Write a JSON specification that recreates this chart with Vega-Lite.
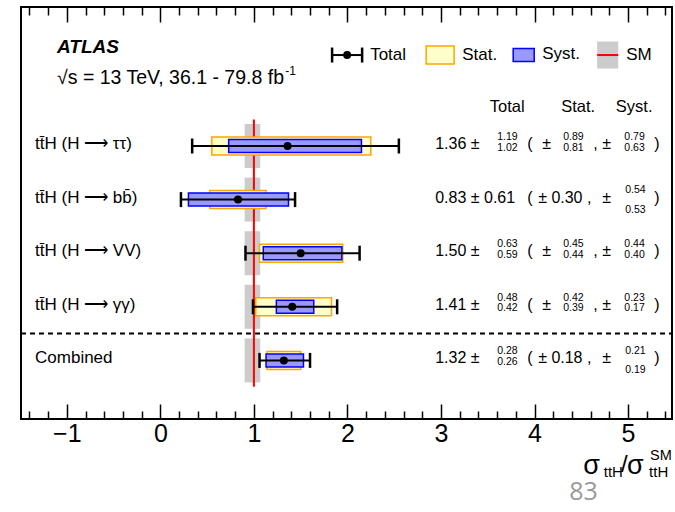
{
  "$schema": "https://vega.github.io/schema/vega-lite/v6.json",
  "width": 651,
  "height": 412,
  "autosize": "none",
  "padding": {"left": 21, "top": 7, "right": 3, "bottom": 93},
  "config": {"view": {"stroke": "#000", "strokeWidth": 2}, "font": "Liberation Sans", "text": {"font": "Liberation Sans", "color": "#000", "baseline": "middle", "align": "left"}},
  "datasets": {
    "rows": [
      {"label": "tt\u0304H (H \u27f6 \u03c4\u03c4)", "y": 5, "mu": 1.36, "totLo": 0.34, "totHi": 2.55, "statLo": 0.55, "statHi": 2.25, "systLo": 0.73, "systHi": 2.15, "main": "1.36 \u00b1", "totUp": "1.19", "totDn": "1.02", "statSym": "", "statPm": "\u00b1", "statUp": "0.89", "statDn": "0.81", "comma": ",", "systUp": "0.79", "systDn": "0.63", "systUpW": "", "systDnW": ""},
      {"label": "tt\u0304H (H \u27f6 bb\u0304)", "y": 4, "mu": 0.83, "totLo": 0.22, "totHi": 1.44, "statLo": 0.53, "statHi": 1.13, "systLo": 0.30, "systHi": 1.37, "main": "0.83 \u00b1 0.61", "totUp": "", "totDn": "", "statSym": "\u00b1 0.30 ,", "statPm": "", "statUp": "", "statDn": "", "comma": "", "systUp": "", "systDn": "", "systUpW": "0.54", "systDnW": "0.53"},
      {"label": "tt\u0304H (H \u27f6 VV)", "y": 3, "mu": 1.50, "totLo": 0.91, "totHi": 2.13, "statLo": 1.06, "statHi": 1.95, "systLo": 1.10, "systHi": 1.94, "main": "1.50 \u00b1", "totUp": "0.63", "totDn": "0.59", "statSym": "", "statPm": "\u00b1", "statUp": "0.45", "statDn": "0.44", "comma": ",", "systUp": "0.44", "systDn": "0.40", "systUpW": "", "systDnW": ""},
      {"label": "tt\u0304H (H \u27f6 \u03b3\u03b3)", "y": 2, "mu": 1.41, "totLo": 0.99, "totHi": 1.89, "statLo": 1.02, "statHi": 1.83, "systLo": 1.24, "systHi": 1.64, "main": "1.41 \u00b1", "totUp": "0.48", "totDn": "0.42", "statSym": "", "statPm": "\u00b1", "statUp": "0.42", "statDn": "0.39", "comma": ",", "systUp": "0.23", "systDn": "0.17", "systUpW": "", "systDnW": ""},
      {"label": "Combined", "y": 1, "mu": 1.32, "totLo": 1.06, "totHi": 1.60, "statLo": 1.14, "statHi": 1.50, "systLo": 1.13, "systHi": 1.53, "main": "1.32 \u00b1", "totUp": "0.28", "totDn": "0.26", "statSym": "\u00b1 0.18 ,", "statPm": "", "statUp": "", "statDn": "", "comma": "", "systUp": "", "systDn": "", "systUpW": "0.21", "systDnW": "0.19"}
    ],
    "one": [{"k": 1}]
  },
  "layer": [
    {"data": {"name": "rows"}, "mark": {"type": "bar", "color": "#cccccc", "size": 44, "orient": "horizontal"},
     "encoding": {
       "x": {"datum": 0.901, "type": "quantitative", "scale": {"domain": [-1.49, 5.47], "nice": false, "zero": false},
             "axis": {"orient": "bottom", "values": [-1.4,-1.2,-1,-0.8,-0.6,-0.4,-0.2,0,0.2,0.4,0.6,0.8,1,1.2,1.4,1.6,1.8,2,2.2,2.4,2.6,2.8,3,3.2,3.4,3.6,3.8,4,4.2,4.4,4.6,4.8,5,5.2,5.4],
                      "labelExpr": "abs(datum.value - round(datum.value)) < 0.001 ? format(round(datum.value), 'd') : ''",
                      "labelOverlap": false, "labelBound": false, "labelFlush": false, "labelFont": "Liberation Sans", "labelFontSize": 25, "labelColor": "#000", "labelPadding": 17,
                      "tickColor": "#000", "tickWidth": 1.5, "tickSize": {"condition": {"test": "abs(datum.value - round(datum.value)) < 0.001", "value": -15}, "value": -8},
                      "domain": false, "grid": false, "title": null}},
       "x2": {"datum": 1.068},
       "y": {"field": "y", "type": "quantitative", "scale": {"domain": [0, 7.5], "nice": false, "zero": false}, "axis": null}}},
    {"data": {"name": "one"}, "mark": {"type": "rule", "color": "#ff0000", "strokeWidth": 2},
     "encoding": {
       "x": {"datum": 1, "type": "quantitative", "scale": {"domain": [-1.49, 5.47], "nice": false, "zero": false},
             "axis": {"orient": "top", "values": [-1.4,-1.2,-1,-0.8,-0.6,-0.4,-0.2,0,0.2,0.4,0.6,0.8,1,1.2,1.4,1.6,1.8,2,2.2,2.4,2.6,2.8,3,3.2,3.4,3.6,3.8,4,4.2,4.4,4.6,4.8,5,5.2,5.4],
                      "labels": false, "tickColor": "#000", "tickWidth": 1.5, "tickSize": {"condition": {"test": "abs(datum.value - round(datum.value)) < 0.001", "value": -15}, "value": -8},
                      "domain": false, "grid": false, "title": null}},
       "y": {"datum": 0.51, "type": "quantitative", "axis": null}, "y2": {"datum": 5.496}}},
    {"data": {"name": "one"}, "mark": {"type": "rule", "color": "#000", "strokeWidth": 2, "strokeDash": [5, 4]},
     "encoding": {"x": {"datum": -1.49, "type": "quantitative", "axis": null}, "x2": {"datum": 5.47}, "y": {"datum": 1.5, "type": "quantitative", "axis": null}}},
    {"data": {"name": "rows"}, "mark": {"type": "bar", "fill": "#ffffcc", "stroke": "#ffa500", "strokeWidth": 1.5, "size": 18, "orient": "horizontal"},
     "encoding": {"x": {"field": "statLo", "type": "quantitative", "axis": null}, "x2": {"field": "statHi"}, "y": {"field": "y", "type": "quantitative", "axis": null}}},
    {"data": {"name": "rows"}, "mark": {"type": "bar", "fill": "#9999ff", "stroke": "#0000ff", "strokeWidth": 1.5, "size": 13, "orient": "horizontal"},
     "encoding": {"x": {"field": "systLo", "type": "quantitative", "axis": null}, "x2": {"field": "systHi"}, "y": {"field": "y", "type": "quantitative", "axis": null}}},
    {"data": {"name": "rows"}, "mark": {"type": "rule", "color": "#000", "strokeWidth": 2},
     "encoding": {"x": {"field": "totLo", "type": "quantitative", "axis": null}, "x2": {"field": "totHi"}, "y": {"field": "y", "type": "quantitative", "axis": null}}},
    {"data": {"name": "rows"}, "mark": {"type": "tick", "color": "#000", "orient": "vertical", "size": 15, "thickness": 2.5, "opacity": 1},
     "encoding": {"x": {"field": "totLo", "type": "quantitative", "axis": null}, "y": {"field": "y", "type": "quantitative", "axis": null}}},
    {"data": {"name": "rows"}, "mark": {"type": "tick", "color": "#000", "orient": "vertical", "size": 15, "thickness": 2.5, "opacity": 1},
     "encoding": {"x": {"field": "totHi", "type": "quantitative", "axis": null}, "y": {"field": "y", "type": "quantitative", "axis": null}}},
    {"data": {"name": "rows"}, "mark": {"type": "circle", "color": "#000", "size": 64, "opacity": 1},
     "encoding": {"x": {"field": "mu", "type": "quantitative", "axis": null}, "y": {"field": "y", "type": "quantitative", "axis": null}}},

    {"data": {"name": "rows"}, "mark": {"type": "text", "fontSize": 17, "dy": -2},
     "encoding": {"x": {"datum": -1.34, "type": "quantitative", "axis": null}, "y": {"field": "y", "type": "quantitative", "axis": null}, "text": {"field": "label"}}},
    {"data": {"name": "rows"}, "mark": {"type": "text", "fontSize": 16, "dy": -2},
     "encoding": {"x": {"datum": 2.938, "type": "quantitative", "axis": null}, "y": {"field": "y", "type": "quantitative", "axis": null}, "text": {"field": "main"}}},
    {"data": {"name": "rows"}, "mark": {"type": "text", "fontSize": 10.5, "dy": -9},
     "encoding": {"x": {"datum": 3.601, "type": "quantitative", "axis": null}, "y": {"field": "y", "type": "quantitative", "axis": null}, "text": {"field": "totUp"}}},
    {"data": {"name": "rows"}, "mark": {"type": "text", "fontSize": 10.5, "dy": 1.5},
     "encoding": {"x": {"datum": 3.601, "type": "quantitative", "axis": null}, "y": {"field": "y", "type": "quantitative", "axis": null}, "text": {"field": "totDn"}}},
    {"data": {"name": "rows"}, "mark": {"type": "text", "fontSize": 16, "dy": -2, "text": "("},
     "encoding": {"x": {"datum": 3.922, "type": "quantitative", "axis": null}, "y": {"field": "y", "type": "quantitative", "axis": null}}},
    {"data": {"name": "rows"}, "mark": {"type": "text", "fontSize": 16, "dy": -2},
     "encoding": {"x": {"datum": 4.039, "type": "quantitative", "axis": null}, "y": {"field": "y", "type": "quantitative", "axis": null}, "text": {"field": "statSym"}}},
    {"data": {"name": "rows"}, "mark": {"type": "text", "fontSize": 16, "dy": -2},
     "encoding": {"x": {"datum": 4.082, "type": "quantitative", "axis": null}, "y": {"field": "y", "type": "quantitative", "axis": null}, "text": {"field": "statPm"}}},
    {"data": {"name": "rows"}, "mark": {"type": "text", "fontSize": 10.5, "dy": -9},
     "encoding": {"x": {"datum": 4.307, "type": "quantitative", "axis": null}, "y": {"field": "y", "type": "quantitative", "axis": null}, "text": {"field": "statUp"}}},
    {"data": {"name": "rows"}, "mark": {"type": "text", "fontSize": 10.5, "dy": 1.5},
     "encoding": {"x": {"datum": 4.307, "type": "quantitative", "axis": null}, "y": {"field": "y", "type": "quantitative", "axis": null}, "text": {"field": "statDn"}}},
    {"data": {"name": "rows"}, "mark": {"type": "text", "fontSize": 16, "dy": -2},
     "encoding": {"x": {"datum": 4.628, "type": "quantitative", "axis": null}, "y": {"field": "y", "type": "quantitative", "axis": null}, "text": {"field": "comma"}}},
    {"data": {"name": "rows"}, "mark": {"type": "text", "fontSize": 16, "dy": -2, "text": "\u00b1"},
     "encoding": {"x": {"datum": 4.724, "type": "quantitative", "axis": null}, "y": {"field": "y", "type": "quantitative", "axis": null}}},
    {"data": {"name": "rows"}, "mark": {"type": "text", "fontSize": 10.5, "dy": -9},
     "encoding": {"x": {"datum": 4.96, "type": "quantitative", "axis": null}, "y": {"field": "y", "type": "quantitative", "axis": null}, "text": {"field": "systUp"}}},
    {"data": {"name": "rows"}, "mark": {"type": "text", "fontSize": 10.5, "dy": 1.5},
     "encoding": {"x": {"datum": 4.96, "type": "quantitative", "axis": null}, "y": {"field": "y", "type": "quantitative", "axis": null}, "text": {"field": "systDn"}}},
    {"data": {"name": "rows"}, "mark": {"type": "text", "fontSize": 10.5, "dy": -9.5},
     "encoding": {"x": {"datum": 4.97, "type": "quantitative", "axis": null}, "y": {"field": "y", "type": "quantitative", "axis": null}, "text": {"field": "systUpW"}}},
    {"data": {"name": "rows"}, "mark": {"type": "text", "fontSize": 10.5, "dy": 10},
     "encoding": {"x": {"datum": 4.97, "type": "quantitative", "axis": null}, "y": {"field": "y", "type": "quantitative", "axis": null}, "text": {"field": "systDnW"}}},
    {"data": {"name": "rows"}, "mark": {"type": "text", "fontSize": 16, "dy": -2, "text": ")"},
     "encoding": {"x": {"datum": 5.28, "type": "quantitative", "axis": null}, "y": {"field": "y", "type": "quantitative", "axis": null}}},

    {"data": {"name": "one"}, "mark": {"type": "text", "fontSize": 16.5, "align": "center", "text": "Total"},
     "encoding": {"x": {"datum": 3.708, "type": "quantitative", "axis": null}, "y": {"datum": 5.733, "type": "quantitative", "axis": null}}},
    {"data": {"name": "one"}, "mark": {"type": "text", "fontSize": 16.5, "align": "center", "text": "Stat."},
     "encoding": {"x": {"datum": 4.467, "type": "quantitative", "axis": null}, "y": {"datum": 5.733, "type": "quantitative", "axis": null}}},
    {"data": {"name": "one"}, "mark": {"type": "text", "fontSize": 16.5, "align": "center", "text": "Syst."},
     "encoding": {"x": {"datum": 5.066, "type": "quantitative", "axis": null}, "y": {"datum": 5.733, "type": "quantitative", "axis": null}}},

    {"data": {"name": "one"}, "mark": {"type": "text", "fontSize": 19, "fontWeight": "bold", "fontStyle": "italic", "text": "ATLAS"},
     "encoding": {"x": {"datum": -1.105, "type": "quantitative", "axis": null}, "y": {"datum": 6.843, "type": "quantitative", "axis": null}}},
    {"data": {"name": "one"}, "mark": {"type": "text", "fontSize": 19.5, "text": "\u221as = 13 TeV, 36.1 - 79.8 fb"},
     "encoding": {"x": {"datum": -1.105, "type": "quantitative", "axis": null}, "y": {"datum": 6.26, "type": "quantitative", "axis": null}}},
    {"data": {"name": "one"}, "mark": {"type": "text", "fontSize": 12, "text": "-1"},
     "encoding": {"x": {"datum": 1.334, "type": "quantitative", "axis": null}, "y": {"datum": 6.4, "type": "quantitative", "axis": null}}},

    {"data": {"name": "one"}, "mark": {"type": "rule", "color": "#000", "strokeWidth": 2},
     "encoding": {"x": {"datum": 1.836, "type": "quantitative", "axis": null}, "x2": {"datum": 2.157}, "y": {"datum": 6.697, "type": "quantitative", "axis": null}}},
    {"data": {"name": "one"}, "mark": {"type": "tick", "color": "#000", "orient": "vertical", "size": 15, "thickness": 2.5, "opacity": 1},
     "encoding": {"x": {"datum": 1.836, "type": "quantitative", "axis": null}, "y": {"datum": 6.697, "type": "quantitative", "axis": null}}},
    {"data": {"name": "one"}, "mark": {"type": "tick", "color": "#000", "orient": "vertical", "size": 15, "thickness": 2.5, "opacity": 1},
     "encoding": {"x": {"datum": 2.157, "type": "quantitative", "axis": null}, "y": {"datum": 6.697, "type": "quantitative", "axis": null}}},
    {"data": {"name": "one"}, "mark": {"type": "circle", "color": "#000", "size": 64, "opacity": 1},
     "encoding": {"x": {"datum": 1.997, "type": "quantitative", "axis": null}, "y": {"datum": 6.697, "type": "quantitative", "axis": null}}},
    {"data": {"name": "one"}, "mark": {"type": "text", "fontSize": 17, "text": "Total"},
     "encoding": {"x": {"datum": 2.243, "type": "quantitative", "axis": null}, "y": {"datum": 6.697, "type": "quantitative", "axis": null}}},
    {"data": {"name": "one"}, "mark": {"type": "bar", "fill": "#ffffcc", "stroke": "#ffa500", "strokeWidth": 1.5, "size": 18, "orient": "horizontal"},
     "encoding": {"x": {"datum": 2.842, "type": "quantitative", "axis": null}, "x2": {"datum": 3.141}, "y": {"datum": 6.697, "type": "quantitative", "axis": null}}},
    {"data": {"name": "one"}, "mark": {"type": "text", "fontSize": 17, "text": "Stat."},
     "encoding": {"x": {"datum": 3.227, "type": "quantitative", "axis": null}, "y": {"datum": 6.697, "type": "quantitative", "axis": null}}},
    {"data": {"name": "one"}, "mark": {"type": "bar", "fill": "#9999ff", "stroke": "#0000ff", "strokeWidth": 1.5, "size": 13, "orient": "horizontal"},
     "encoding": {"x": {"datum": 3.772, "type": "quantitative", "axis": null}, "x2": {"datum": 3.997}, "y": {"datum": 6.697, "type": "quantitative", "axis": null}}},
    {"data": {"name": "one"}, "mark": {"type": "text", "fontSize": 17, "text": "Syst."},
     "encoding": {"x": {"datum": 4.082, "type": "quantitative", "axis": null}, "y": {"datum": 6.72, "type": "quantitative", "axis": null}}},
    {"data": {"name": "one"}, "mark": {"type": "bar", "color": "#cccccc", "size": 27, "orient": "horizontal"},
     "encoding": {"x": {"datum": 4.67, "type": "quantitative", "axis": null}, "x2": {"datum": 4.895}, "y": {"datum": 6.697, "type": "quantitative", "axis": null}}},
    {"data": {"name": "one"}, "mark": {"type": "rule", "color": "#ff0000", "strokeWidth": 2},
     "encoding": {"x": {"datum": 4.67, "type": "quantitative", "axis": null}, "x2": {"datum": 4.895}, "y": {"datum": 6.697, "type": "quantitative", "axis": null}}},
    {"data": {"name": "one"}, "mark": {"type": "text", "fontSize": 17, "text": "SM"},
     "encoding": {"x": {"datum": 4.981, "type": "quantitative", "axis": null}, "y": {"datum": 6.697, "type": "quantitative", "axis": null}}},

    {"data": {"name": "one"}, "mark": {"type": "text", "fontSize": 27, "text": "\u03c3"},
     "encoding": {"x": {"datum": 4.521, "type": "quantitative", "axis": null}, "y": {"datum": -0.965, "type": "quantitative", "axis": null}}},
    {"data": {"name": "one"}, "mark": {"type": "text", "fontSize": 15, "text": "ttH"},
     "encoding": {"x": {"datum": 4.74, "type": "quantitative", "axis": null}, "y": {"datum": -1.08, "type": "quantitative", "axis": null}}},
    {"data": {"name": "one"}, "mark": {"type": "text", "fontSize": 24, "text": "/"},
     "encoding": {"x": {"datum": 4.925, "type": "quantitative", "axis": null}, "y": {"datum": -0.96, "type": "quantitative", "axis": null}}},
    {"data": {"name": "one"}, "mark": {"type": "text", "fontSize": 27, "text": "\u03c3"},
     "encoding": {"x": {"datum": 4.99, "type": "quantitative", "axis": null}, "y": {"datum": -0.965, "type": "quantitative", "axis": null}}},
    {"data": {"name": "one"}, "mark": {"type": "text", "fontSize": 14.5, "text": "SM"},
     "encoding": {"x": {"datum": 5.235, "type": "quantitative", "axis": null}, "y": {"datum": -0.79, "type": "quantitative", "axis": null}}},
    {"data": {"name": "one"}, "mark": {"type": "text", "fontSize": 15, "text": "ttH"},
     "encoding": {"x": {"datum": 5.225, "type": "quantitative", "axis": null}, "y": {"datum": -1.08, "type": "quantitative", "axis": null}}},
    {"data": {"name": "one"}, "mark": {"type": "text", "fontSize": 25, "font": "Open Sans", "color": "#999999", "text": "83"},
     "encoding": {"x": {"datum": 4.371, "type": "quantitative", "axis": null}, "y": {"datum": -1.456, "type": "quantitative", "axis": null}}}
  ],
  "resolve": {"axis": {"x": "independent"}}
}
